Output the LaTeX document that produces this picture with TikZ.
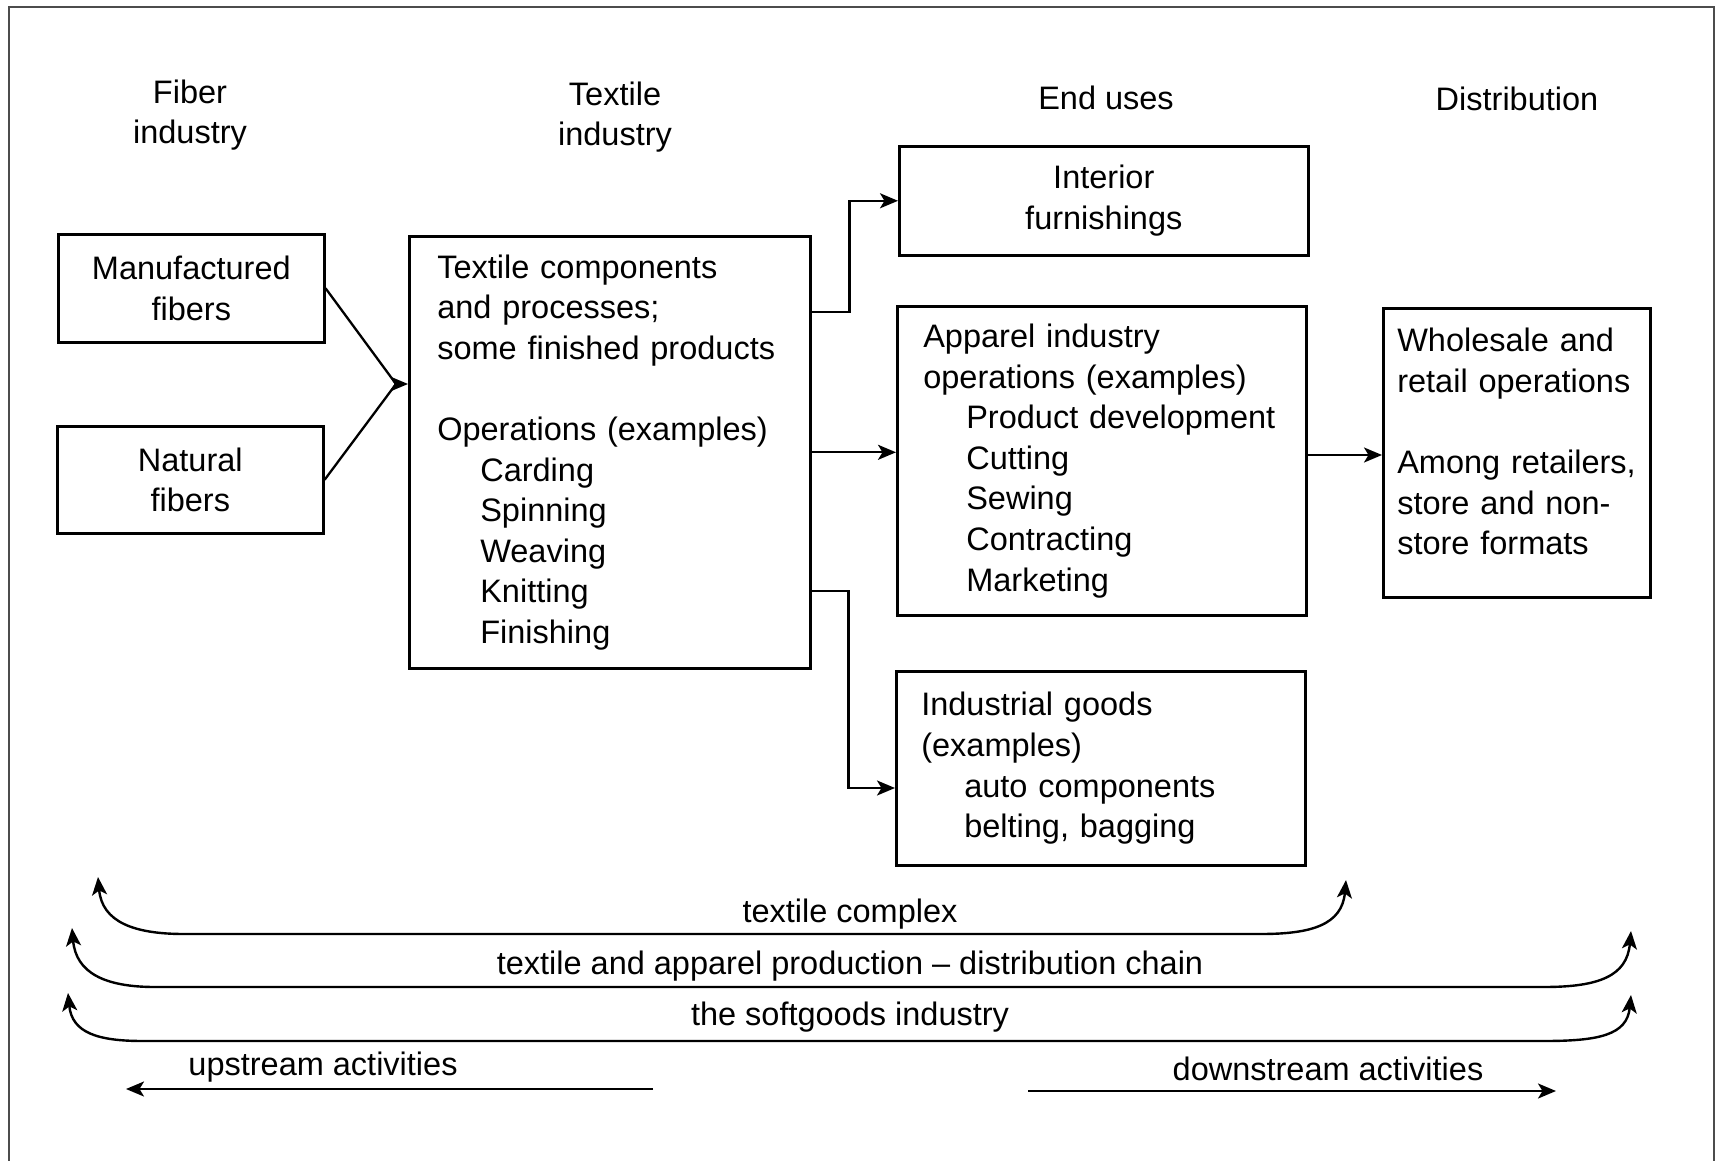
\documentclass[tikz,border=0pt]{standalone}
\usepackage{fontspec}
\setmainfont{Liberation Sans}
\usetikzlibrary{arrows.meta,calc}
\tikzset{
  x=1pt, y=-1pt,
  every node/.style={font=\fontsize{32.5}{40.6}\selectfont, inner sep=0pt},
  box/.style={draw, line width=2.6pt, anchor=north west, inner ysep=0pt},
  ctrbox/.style={box, align=center, inner xsep=0pt},
  lftbox/.style={box, align=left},
  wire/.style={line width=2.3pt},
  link/.style={wire, -{Stealth[length=18pt,width=15pt,inset=4.5pt]}},
  rangearrow/.style={line width=2.4pt, {Stealth[length=18pt,width=15pt,inset=4.5pt]}-{Stealth[length=18pt,width=15pt,inset=4.5pt]}},
  onearrow/.style={line width=2.4pt, -{Stealth[length=18pt,width=15pt,inset=4.5pt]}},
  frame/.style={line width=1.8pt, draw=black!70}
}
\newcommand{\ind}{\hspace*{43pt}}
\begin{document}
\begin{tikzpicture}
\useasboundingbox (0,0) rectangle (1721,1161);
% outer frame
\draw[frame] (9,1161) -- (9,7) -- (1714,7) -- (1714,1161);

% column headings
\node[align=center] (hfib) at (190,115) {Fiber\\industry};
\node[align=center] (htex) at (615,117) {Textile\\industry};
\node (hend) at (1106,98) {End uses};
\node (hdis) at (1517,99) {Distribution};

% boxes
\node[ctrbox, minimum width=266pt, text width=266pt, minimum height=108pt] (manu) at (57,233) {Manufactured\\fibers};
\node[ctrbox, minimum width=266pt, text width=266pt, minimum height=107pt] (nat) at (56,425) {Natural\\fibers};
\node[lftbox, inner xsep=28pt, text width=345pt, minimum height=432pt] (tex) at (408,235)
  {Textile components\\and processes;\\some finished products\\[40.6pt]
   Operations (examples)\\\ind Carding\\\ind Spinning\\\ind Weaving\\\ind Knitting\\\ind Finishing};
\node[ctrbox, minimum width=409pt, text width=409pt, minimum height=109pt] (int) at (898,145) {Interior\\furnishings};
\node[lftbox, inner xsep=26pt, text width=357pt, minimum height=309pt] (app) at (896,305)
  {Apparel industry\\operations (examples)\\\ind Product development\\\ind Cutting\\\ind Sewing\\\ind Contracting\\\ind Marketing};
\node[lftbox, inner xsep=25pt, text width=359pt, minimum height=194pt] (ind) at (895,670)
  {Industrial goods\\(examples)\\\ind auto components\\\ind belting, bagging};
\node[lftbox, inner xsep=14pt, text width=239pt, minimum height=289pt] (whl) at (1382,307)
  {Wholesale and\\retail operations\\[40.6pt]Among retailers,\\store and non-\\store formats\\[-18pt]\mbox{}};

% fibers into textile industry
\coordinate (join) at (396,384);
\draw[wire] (manu.east) -- (join);
\draw[wire] (nat.east) -- (join);
\draw[link] (join) -- (join -| tex.west);

% textile industry to end uses
\draw[link] (tex.east |- {(0,312)}) -- ++(38,0) |- (int.west);
\draw[link] (tex.east) -- (tex.east -| app.west);
\draw[link] (tex.east |- {(0,591)}) -- ++(37,0) |- (ind.west |- {(0,788)});

% apparel to distribution
\draw[link] (app.east |- {(0,455)}) -- (whl.west |- {(0,455)});

% spans along the chain
\coordinate (tcL) at (98,877);   \coordinate (tcR) at (1346,880);
\coordinate (chL) at (72,928);   \coordinate (chR) at (1631,931);
\coordinate (sgL) at (68,993);   \coordinate (sgR) at (1631,995);

\draw[rangearrow] (tcL) .. controls +(4,45) and +(-50,0) .. (184,934) -- (1261,934) .. controls +(50,0) and +(-4,45) .. (tcR);
\draw[rangearrow] (chL) .. controls +(4,45) and +(-50,0) .. (155,987) -- (1544,987) .. controls +(55,0) and +(-4,45) .. (chR);
\draw[rangearrow] (sgL) .. controls +(4,40) and +(-45,0) .. (143,1041) -- (1544,1041) .. controls +(55,0) and +(-4,40) .. (sgR);

\node (ltc) at (850,914) {textile complex};
\node (lch) at (850,966) {textile and apparel production -- distribution chain};
\node (lsg) at (850,1017) {the softgoods industry};

% upstream / downstream
\coordinate (upA) at (653,1089); \coordinate (upB) at (126,1089);
\coordinate (dnA) at (1028,1091); \coordinate (dnB) at (1556,1091);
\draw[onearrow] (upA) -- (upB);
\draw[onearrow] (dnA) -- (dnB);
\node (lup) at (323,1067) {upstream activities};
\node (ldn) at (1328,1069) {downstream activities};
\end{tikzpicture}
\end{document}
